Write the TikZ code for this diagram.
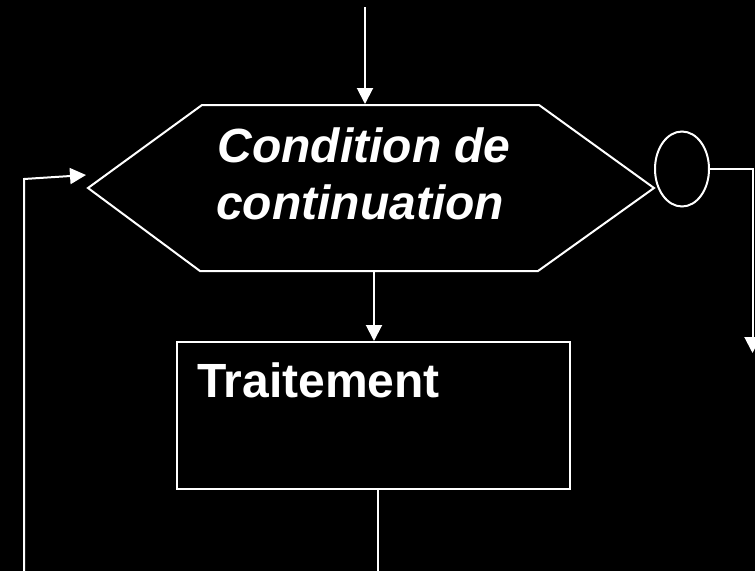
\documentclass[tikz,border=0pt]{standalone}
\usepackage{fontspec}
\setmainfont{Liberation Sans}
\usetikzlibrary{arrows.meta,shapes.geometric}
\tikzset{
  wire/.style={draw=white, line width=2pt},
  flow/.style={wire, -{Triangle[width=16pt,length=16pt]}},
  bigtext/.style={text=white, inner sep=0pt, font=\fontsize{48}{57}\selectfont\bfseries},
}
\begin{document}
\begin{tikzpicture}[x=1pt,y=-1pt]
  % page
  \fill[black] (0,0) rectangle (755,571);
  \useasboundingbox (0,0) rectangle (755,571);

  % decision hexagon
  \coordinate (hw) at (88,188);
  \coordinate (htl) at (202,105);
  \coordinate (htr) at (539,105);
  \coordinate (he) at (654,188);
  \coordinate (hbr) at (538,271);
  \coordinate (hbl) at (200,271);
  \draw[wire, line join=miter] (hw) -- (htl) -- (htr) -- (he) -- (hbr) -- (hbl) -- cycle;
  \node[bigtext, anchor=base, font=\fontsize{48}{57}\selectfont\bfseries\itshape] (cond1) at (364,162) {Condition de};
  \node[bigtext, anchor=base, font=\fontsize{48}{57}\selectfont\bfseries\itshape] (cond2) at (360,219) {continuation};

  % exit connector circle
  \node[ellipse, draw=white, line width=2pt, minimum width=54pt, minimum height=75pt, inner sep=0pt] (exit) at (682,169) {};

  % processing box
  \node[draw=white, line width=2pt, minimum width=393pt, minimum height=147pt, inner sep=0pt, anchor=north west] (proc) at (176,341) {};
  \node[bigtext, anchor=base west] (proclabel) at (197,397) {Traitement};

  % connectors
  \coordinate (entry) at (365,7);
  \draw[flow] (entry) -- (365,104);
  \draw[flow] (374,271) -- (proc.north -| 374,0);
  \coordinate (procout) at (378,571);
  \draw[wire] (proc.south -| 378,0) -- (procout);

  % loop back to the condition
  \coordinate (loopfoot) at (24,571);
  \coordinate (loopcorner) at (24,179);
  \coordinate (looptip) at (86,175);
  \draw[flow] (loopfoot) -- (loopcorner) -- (looptip);

  % exit path
  \coordinate (exitcorner) at (752.5,169);
  \coordinate (exittip) at (752.5,353);
  \draw[flow] (exit.east) -- (exitcorner) -- (exittip);
\end{tikzpicture}
\end{document}
